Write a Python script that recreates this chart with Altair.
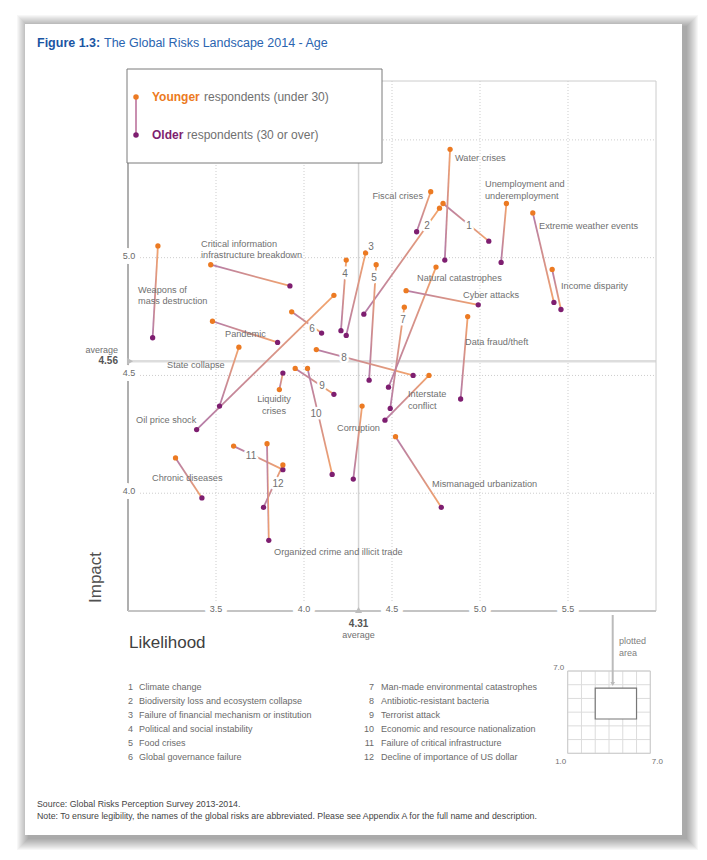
import altair as alt
import pandas as pd

# ---------------- data ----------------
risk_labels = ["1", "2", "3", "4", "5", "6", "7", "8", "9", "10", "11", "12",
               "Water crises", "Fiscal crises", "Unemployment and underemployment",
               "Extreme weather events", "Income disparity", "Natural catastrophes",
               "Cyber attacks", "Data fraud/theft", "Interstate conflict", "Corruption",
               "Mismanaged urbanization", "Weapons of mass destruction",
               "Critical information infrastructure breakdown", "Pandemic",
               "State collapse", "Oil price shock", "Liquidity crises",
               "Organized crime and illicit trade", "Chronic diseases"]

young_likelihood = [4.79, 4.77, 4.35, 4.24, 4.41, 3.93, 4.57, 4.07, 3.95, 4.02, 3.60, 3.88,
                    4.83, 4.72, 5.15, 5.30, 5.41, 4.75, 4.58, 4.93, 4.71, 4.33, 4.52,
                    3.17, 3.47, 3.48, 3.63, 4.17, 3.86, 3.79, 3.27]
young_impact = [5.23, 5.21, 5.02, 4.99, 4.97, 4.77, 4.79, 4.61, 4.53, 4.53, 4.20, 4.12,
                5.46, 5.28, 5.23, 5.19, 4.95, 4.96, 4.86, 4.75, 4.50, 4.37, 4.24,
                5.05, 4.97, 4.73, 4.62, 4.84, 4.44, 4.21, 4.15]
old_likelihood = [5.05, 4.34, 4.24, 4.21, 4.37, 4.10, 4.49, 4.62, 4.17, 4.16, 3.88, 3.77,
                  4.80, 4.64, 5.12, 5.42, 5.46, 4.48, 4.99, 4.89, 4.46, 4.28, 4.78,
                  3.14, 3.92, 3.85, 3.52, 3.39, 3.88, 3.80, 3.42]
old_impact = [5.07, 4.76, 4.67, 4.69, 4.48, 4.68, 4.36, 4.50, 4.42, 4.08, 4.10, 3.94,
              4.99, 5.11, 4.98, 4.81, 4.78, 4.45, 4.80, 4.40, 4.31, 4.06, 3.94,
              4.66, 4.88, 4.64, 4.37, 4.27, 4.51, 3.80, 3.98]

numbered_names = ["Climate change", "Biodiversity loss and ecosystem collapse",
                  "Failure of financial mechanism or institution",
                  "Political and social instability", "Food crises",
                  "Global governance failure", "Man-made environmental catastrophes",
                  "Antibiotic-resistant bacteria", "Terrorist attack",
                  "Economic and resource nationalization",
                  "Failure of critical infrastructure", "Decline of importance of US dollar"]

x_ticks = [3.5, 4.0, 4.5, 5.0, 5.5]
y_ticks = [4.0, 4.5, 5.0]
y_grid = [4.0, 4.5, 5.0, 5.5]
avg_likelihood = [4.31]
avg_impact = [4.56]
x_domain = [3.0, 6.0]
y_domain = [3.5, 5.75]
mini_values = [1.0, 2.0, 3.0, 4.0, 5.0, 6.0, 7.0]

title_bold = "Figure 1.3:"
title_rest = "The Global Risks Landscape 2014 - Age"
source_lines = ["Source: Global Risks Perception Survey 2013-2014.",
                "Note: To ensure legibility, the names of the global risks are abbreviated. "
                "Please see Appendix A for the full name and description."]

# ---------------- layout / style ----------------
W, H = 528, 530
OX, OY = 128, 81          # page position of the plot area
ORANGE = "#ec7a22"
PURPLE = "#7e1e70"
GREY = "#707070"
FONT = "Liberation Sans"

xs = alt.Scale(domain=x_domain, nice=False, zero=False)
ys = alt.Scale(domain=y_domain, nice=False, zero=False)


def texts(rows, **kw):
    df = pd.DataFrame(rows, columns=["x", "y", "text"])
    df["x"] = df["x"] - OX
    df["y"] = df["y"] - OY
    style = dict(font=FONT, baseline="middle", align="left", fontSize=9, color=GREY)
    style.update(kw)
    return alt.Chart(df).mark_text(**style).encode(
        x=alt.X("x:Q", scale=None, axis=None),
        y=alt.Y("y:Q", scale=None, axis=None),
        text="text:N")


def boxes(rows, mark="rect", **kw):
    df = pd.DataFrame(rows, columns=["x", "y", "x2", "y2"])
    for c in ["x", "x2"]:
        df[c] = df[c] - OX
    for c in ["y", "y2"]:
        df[c] = df[c] - OY
    ch = alt.Chart(df)
    ch = ch.mark_rect(**kw) if mark == "rect" else ch.mark_rule(**kw)
    return ch.encode(x=alt.X("x:Q", scale=None, axis=None), x2="x2:Q",
                     y=alt.Y("y:Q", scale=None, axis=None), y2="y2:Q")


def dots(rows, **kw):
    df = pd.DataFrame(rows, columns=["x", "y"])
    df["x"] = df["x"] - OX
    df["y"] = df["y"] - OY
    return alt.Chart(df).mark_point(**kw).encode(
        x=alt.X("x:Q", scale=None, axis=None), y=alt.Y("y:Q", scale=None, axis=None))


layers = []

# paper with shadow
shadow = []
for s in range(1, 13):
    shadow.append((25 - s + 4, 24 - s + 3, 682 + s + 4, 835 + s + 3))
layers.append(boxes(shadow, color="black", opacity=0.03))
layers.append(boxes([(25, 24, 682, 835)], color="white"))

# grid
layers.append(alt.Chart(pd.DataFrame({"v": x_ticks})).mark_rule(
    color="#cdcdcd", strokeDash=[1, 2], strokeWidth=1).encode(
    x=alt.X("v:Q", scale=xs, axis=None), y=alt.value(0), y2=alt.value(H)))
layers.append(alt.Chart(pd.DataFrame({"v": y_grid})).mark_rule(
    color="#cdcdcd", strokeDash=[1, 2], strokeWidth=1).encode(
    y=alt.Y("v:Q", scale=ys, axis=None), x=alt.value(0), x2=alt.value(W)))

# averages
layers.append(alt.Chart(pd.DataFrame({"v": avg_likelihood})).mark_rule(
    color="#d4d4d4", strokeWidth=1.5).encode(
    x=alt.X("v:Q", scale=xs, axis=None), y=alt.value(0), y2=alt.value(H)))
layers.append(alt.Chart(pd.DataFrame({"v": avg_impact})).mark_rule(
    color="#dddddd", strokeWidth=2.5).encode(
    y=alt.Y("v:Q", scale=ys, axis=None), x=alt.value(0), x2=alt.value(W)))

# frame and axis lines
layers.append(alt.Chart(pd.DataFrame({"a": [0]})).mark_rect(
    fillOpacity=0, stroke="#cccccc", strokeWidth=1).encode(
    x=alt.value(0), x2=alt.value(W), y=alt.value(0), y2=alt.value(H)))
layers.append(alt.Chart(pd.DataFrame({"a": [0]})).mark_rule(
    color="#8a8a8a", strokeWidth=1.2).encode(
    x=alt.value(0), y=alt.value(0), y2=alt.value(H)))
layers.append(alt.Chart(pd.DataFrame({"a": [0]})).mark_rule(
    color="#c4c4c4", strokeWidth=2).encode(
    x=alt.value(0), x2=alt.value(W), y=alt.value(H)))

# risk data
rows = []
for i, lab in enumerate(risk_labels):
    rows.append({"risk": lab, "group": "Younger", "o": 0,
                 "likelihood": young_likelihood[i], "impact": young_impact[i]})
    rows.append({"risk": lab, "group": "Older", "o": 1,
                 "likelihood": old_likelihood[i], "impact": old_impact[i]})
long = pd.DataFrame(rows)

grad = alt.Gradient(gradient="linear",
                    stops=[alt.GradientStop(color="#b47ca9", offset=0),
                           alt.GradientStop(color="#f3a46c", offset=1)],
                    x1=0, x2=1, y1=0, y2=0)
layers.append(alt.Chart(long).mark_line(stroke=grad, strokeWidth=1.8).encode(
    x=alt.X("likelihood:Q", scale=xs, axis=None),
    y=alt.Y("impact:Q", scale=ys, axis=None),
    detail="risk:N", order="o:Q"))
layers.append(alt.Chart(long).mark_circle(size=28, opacity=1).encode(
    x=alt.X("likelihood:Q", scale=xs, axis=None),
    y=alt.Y("impact:Q", scale=ys, axis=None),
    color=alt.Color("group:N", scale=alt.Scale(domain=["Younger", "Older"],
                                               range=[ORANGE, PURPLE]), legend=None)))

# name labels
name_left = [
    (455, 158, "Water crises"),
    (485, 184, "Unemployment and"), (485, 196, "underemployment"),
    (539, 226, "Extreme weather events"),
    (561, 286, "Income disparity"),
    (417, 278, "Natural catastrophes"),
    (463, 295, "Cyber attacks"),
    (465, 342, "Data fraud/theft"),
    (408, 394, "Interstate"), (408, 406, "conflict"),
    (337, 428, "Corruption"),
    (432, 484, "Mismanaged urbanization"),
    (274, 552, "Organized crime and illicit trade"),
    (152, 478, "Chronic diseases"),
    (136, 420, "Oil price shock"),
    (167, 365, "State collapse"),
    (225, 334, "Pandemic"),
    (138, 290, "Weapons of"), (138, 301, "mass destruction"),
    (201, 244, "Critical information"), (201, 255, "infrastructure breakdown"),
]
layers.append(texts(name_left, fontSize=9.2))
layers.append(texts([(423, 196, "Fiscal crises")], fontSize=9.2, align="right"))
layers.append(texts([(274, 399, "Liquidity"), (274, 411, "crises")], fontSize=9.2,
                    align="center"))

num_pos = [(469, 226, "1"), (427, 226, "2"), (371, 247, "3"), (345, 274, "4"),
           (374, 278, "5"), (312, 329, "6"), (403, 320, "7"), (344, 358, "8"),
           (322, 386, "9"), (316, 414, "10"), (251, 456, "11"), (278, 484, "12")]
layers.append(texts(num_pos, fontSize=10, align="center", color="white",
                    stroke="white", strokeWidth=5, strokeJoin="round"))
layers.append(texts(num_pos, fontSize=10, align="center"))

# axis labels
xt = pd.DataFrame({"v": x_ticks})
yt = pd.DataFrame({"v": y_ticks})
for halo in (True, False):
    kw = dict(font=FONT, fontSize=9, color="#6a6a6a", baseline="middle", align="center")
    if halo:
        kw.update(color="white", stroke="white", strokeWidth=10, strokeJoin="round")
    layers.append(alt.Chart(xt).mark_text(**kw).encode(
        x=alt.X("v:Q", scale=xs, axis=None), y=alt.value(H - 2),
        text=alt.Text("v:Q", format=".1f")))
    layers.append(alt.Chart(yt).mark_text(dy=-2, **kw).encode(
        y=alt.Y("v:Q", scale=ys, axis=None), x=alt.value(1),
        text=alt.Text("v:Q", format=".1f")))

# average markers
avx = pd.DataFrame({"v": avg_likelihood})
avy = pd.DataFrame({"v": avg_impact})
layers.append(alt.Chart(avx).mark_point(shape="triangle-up", filled=True, size=50,
                                        color="#bdbdbd", opacity=1).encode(
    x=alt.X("v:Q", scale=xs, axis=None), y=alt.value(H - 1)))
layers.append(alt.Chart(avy).mark_point(shape="triangle-right", filled=True, size=50,
                                        color="#bdbdbd", opacity=1).encode(
    y=alt.Y("v:Q", scale=ys, axis=None), x=alt.value(2)))
layers.append(alt.Chart(avx).mark_text(font=FONT, fontSize=10, fontWeight="bold",
                                       color="#555555", baseline="middle").encode(
    x=alt.X("v:Q", scale=xs, axis=None), y=alt.value(624 - OY),
    text=alt.Text("v:Q", format=".2f")))
layers.append(alt.Chart(avx).mark_text(font=FONT, fontSize=9, color=GREY,
                                       baseline="middle").encode(
    x=alt.X("v:Q", scale=xs, axis=None), y=alt.value(635 - OY),
    text=alt.value("average")))
layers.append(alt.Chart(avy).mark_text(font=FONT, fontSize=10, fontWeight="bold",
                                       color="#555555", baseline="middle",
                                       align="right").encode(
    y=alt.Y("v:Q", scale=ys, axis=None), x=alt.value(118 - OX),
    text=alt.Text("v:Q", format=".2f")))
layers.append(alt.Chart(avy).mark_text(font=FONT, fontSize=9, color=GREY,
                                       baseline="middle", align="right", dy=-11).encode(
    y=alt.Y("v:Q", scale=ys, axis=None), x=alt.value(118 - OX),
    text=alt.value("average")))

# legend box
layers.append(boxes([(127, 69, 382, 163)], color="white", stroke="#7a7a7a", strokeWidth=1))
layers.append(boxes([(136, 97, 136, 135)], mark="rule", color="#c98fb0", strokeWidth=2))
layers.append(dots([(136, 97)], filled=True, size=30, color=ORANGE, opacity=1))
layers.append(dots([(136, 135)], filled=True, size=30, color=PURPLE, opacity=1))
layers.append(texts([(152, 97, "Younger")], fontSize=12, fontWeight="bold", color=ORANGE))
layers.append(texts([(204, 97, "respondents (under 30)")], fontSize=12, color=GREY))
layers.append(texts([(152, 135, "Older")], fontSize=12, fontWeight="bold", color=PURPLE))
layers.append(texts([(187, 135, "respondents (30 or over)")], fontSize=12, color=GREY))

# title
layers.append(texts([(37, 43, title_bold)], fontSize=12.5, fontWeight="bold", color="#1a55a3"))
layers.append(texts([(104, 43, title_rest)], fontSize=12.5, color="#2a64b0"))

# axis titles
layers.append(texts([(101, 603, "Impact")], fontSize=17, angle=270, baseline="alphabetic",
                    color="#505050"))
layers.append(texts([(129, 648, "Likelihood")], fontSize=17, baseline="alphabetic",
                    color="#404040"))

# numbered list
col1_num, col1_txt, col2_num, col2_txt = [], [], [], []
for i, nm in enumerate(numbered_names):
    y = 687 + 14 * (i % 6)
    if i < 6:
        col1_num.append((133, y, str(i + 1)))
        col1_txt.append((139, y, nm))
    else:
        col2_num.append((374, y, str(i + 1)))
        col2_txt.append((381, y, nm))
layers.append(texts(col1_num + col2_num, fontSize=9, align="right", color="#6a6a6a"))
layers.append(texts(col1_txt + col2_txt, fontSize=9, color="#6a6a6a"))

# source
layers.append(texts([(37, 804, source_lines[0]), (37, 816, source_lines[1])],
                    fontSize=8.8, color="#444444"))

# mini "plotted area" chart
MX0, MY0, MUX, MUY = 567.7, 753.3, 82.6 / 6, 82.3 / 6


def mx(v):
    return MX0 + (v - mini_values[0]) * MUX


def my(v):
    return MY0 - (v - mini_values[0]) * MUY


lo, hi = mini_values[0], mini_values[-1]
grid_rows = [(mx(v), my(lo), mx(v), my(hi)) for v in mini_values]
grid_rows += [(mx(lo), my(v), mx(hi), my(v)) for v in mini_values]
layers.append(boxes(grid_rows, mark="rule", color="#dcdcdc", strokeWidth=1))
layers.append(boxes([(mx(lo), my(hi), mx(hi), my(lo))], fillOpacity=0,
                    stroke="#cccccc", strokeWidth=1))
layers.append(boxes([(mx(x_domain[0]), my(y_domain[1]), mx(x_domain[1]), my(y_domain[0]))],
                    color="white", stroke="#777777", strokeWidth=1.2))
layers.append(boxes([(612.7, 615, 612.7, 683)], mark="rule", color="#bbbbbb", strokeWidth=2))
layers.append(dots([(612.7, 684)], shape="triangle-down", filled=True, size=22,
                   color="#bbbbbb", opacity=1))
layers.append(texts([(619, 641, "plotted"), (619, 653, "area")], fontSize=9, color="#808080"))
layers.append(texts([(mx(lo) - 9, my(hi) - 3, "%.1f" % hi),
                     (mx(lo) - 7, 762, "%.1f" % lo),
                     (mx(hi) + 7, 762, "%.1f" % hi)],
                    fontSize=8, align="center", color="#707070"))

chart = alt.layer(*layers).properties(
    width=W, height=H,
    autosize=alt.AutoSizeParams(type="none"),
    padding={"left": OX - 8, "top": OY - 8, "right": 691 - (OX - 8) - W,
             "bottom": 844 - (OY - 8) - H},
    background="white",
).configure_view(stroke=None)

chart.save("out.html", embed_options={"renderer": "svg", "actions": False})
